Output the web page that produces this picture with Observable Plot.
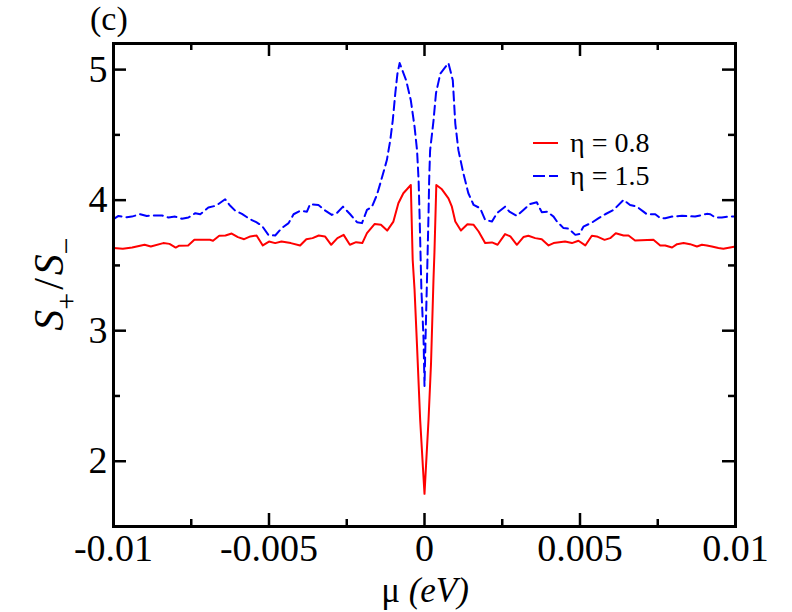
<!DOCTYPE html>
<html>
<head>
<meta charset="utf-8">
<script src="https://cdn.jsdelivr.net/npm/d3@7"></script>
<script src="https://cdn.jsdelivr.net/npm/@observablehq/plot@0.6"></script>
<style>
  html, body { margin: 0; padding: 0; background: #fff; }
  #chart { width: 792px; height: 612px; }
</style>
</head>
<body>
<div id="chart"></div>
<script>
// ---- data ----
const redMu = [-0.0100,-0.0097,-0.0094,-0.0090,-0.0088,-0.0084,-0.0082,-0.0080,-0.0079,-0.0076,-0.0074,-0.0069,-0.0068,-0.0066,-0.0064,-0.0062,-0.0060,-0.0058,-0.0056,-0.0054,-0.0052,-0.0050,-0.0048,-0.0046,-0.0043,-0.0040,-0.0038,-0.0036,-0.0034,-0.0032,-0.0030,-0.0028,-0.0026,-0.0024,-0.0022,-0.0020,-0.00185,-0.0016,-0.0014,-0.0012,-0.0010,-0.00084,-0.00068,-0.00044,-0.00038,-0.00032,-0.00024,-0.00014,-0.00005,0,0.00005,0.00013,0.00021,0.00029,0.00032,0.00038,0.00056,0.00077,0.00088,0.00099,0.00117,0.00138,0.00158,0.00174,0.00195,0.00217,0.00235,0.00259,0.00276,0.00297,0.00318,0.00334,0.00356,0.00377,0.00399,0.00415,0.00452,0.00474,0.00495,0.00517,0.00538,0.00554,0.00579,0.00597,0.00615,0.00640,0.00656,0.00677,0.00736,0.00758,0.00774,0.00796,0.00812,0.00833,0.00854,0.00876,0.00892,0.00908,0.00924,0.00945,0.00961,0.0100];
const redS = [3.633,3.628,3.637,3.658,3.645,3.671,3.665,3.637,3.650,3.653,3.696,3.696,3.689,3.727,3.729,3.744,3.717,3.701,3.722,3.729,3.653,3.683,3.671,3.683,3.671,3.653,3.701,3.709,3.729,3.722,3.658,3.709,3.734,3.658,3.678,3.671,3.747,3.818,3.811,3.767,3.836,3.976,4.053,4.116,3.543,3.315,2.882,2.320,1.950,1.750,1.970,2.320,2.750,3.400,3.600,4.116,4.083,4.014,3.950,3.836,3.767,3.816,3.811,3.760,3.671,3.676,3.658,3.740,3.722,3.658,3.717,3.727,3.709,3.701,3.653,3.671,3.683,3.671,3.689,3.653,3.727,3.722,3.696,3.709,3.747,3.729,3.729,3.691,3.696,3.653,3.653,3.637,3.663,3.671,3.663,3.645,3.658,3.653,3.645,3.633,3.628,3.645];

const blueMu = [-0.0100,-0.00984,-0.00957,-0.00941,-0.00914,-0.00893,-0.00871,-0.00844,-0.00823,-0.00802,-0.00780,-0.00759,-0.00737,-0.00721,-0.00695,-0.00670,-0.00641,-0.00627,-0.00609,-0.00587,-0.00563,-0.00541,-0.00523,-0.00502,-0.00480,-0.00459,-0.00437,-0.00421,-0.00400,-0.00378,-0.00368,-0.00341,-0.00319,-0.00298,-0.00282,-0.00262,-0.00239,-0.00217,-0.00201,-0.00185,-0.00169,-0.00153,-0.00142,-0.00121,-0.00110,-0.00102,-0.00094,-0.00087,-0.00080,-0.00059,-0.00044,-0.00032,-0.00024,-0.00019,-0.00016,-0.00010,-0.00003,0,0.00004,0.00008,0.00013,0.00015,0.00018,0.00029,0.00037,0.00051,0.00077,0.00091,0.00099,0.00109,0.00125,0.00141,0.00158,0.00179,0.00195,0.00217,0.00233,0.00259,0.00273,0.00297,0.00318,0.00340,0.00361,0.00377,0.00394,0.00415,0.00426,0.00447,0.00463,0.00485,0.00498,0.00511,0.00538,0.00560,0.00581,0.00608,0.00640,0.00661,0.00683,0.00704,0.00715,0.00742,0.00758,0.00774,0.00796,0.00828,0.00870,0.00908,0.00919,0.00935,0.00956,0.00977,0.0100];
const blueS = [3.854,3.879,3.869,3.874,3.892,3.879,3.882,3.882,3.867,3.874,3.857,3.867,3.900,3.892,3.943,3.958,4.007,3.963,3.920,3.895,3.857,3.831,3.805,3.734,3.729,3.786,3.824,3.892,3.918,3.912,3.969,3.963,3.920,3.887,3.900,3.950,3.892,3.831,3.824,3.925,3.950,4.040,4.129,4.307,4.460,4.612,4.816,4.969,5.050,4.918,4.765,4.563,4.383,4.154,3.900,3.315,2.933,2.577,3.010,3.390,3.900,4.154,4.380,4.610,4.820,4.970,5.050,4.918,4.587,4.383,4.205,4.053,3.963,3.938,3.849,3.836,3.900,3.950,3.912,3.880,3.925,3.971,3.984,3.908,3.912,3.874,3.836,3.786,3.782,3.734,3.740,3.797,3.828,3.862,3.892,3.925,4.002,3.963,3.950,3.912,3.892,3.892,3.862,3.862,3.874,3.880,3.874,3.895,3.892,3.867,3.867,3.874,3.874];

const xMajor = [-0.01, -0.005, 0, 0.005, 0.01];
const xMajorLabels = ["-0.01", "-0.005", "0", "0.005", "0.01"];
const xMinor = [-0.0075, -0.0025, 0.0025, 0.0075];
const yMajor = [2, 3, 4, 5];
const yMajorLabels = ["2", "3", "4", "5"];
const yMinor = [2.5, 3.5, 4.5];

const seriesNames = ["η = 0.8", "η = 1.5"];
const seriesColors = ["#ff0000", "#0000ff"];

// ---- build tables ----
const red = redMu.map((m, i) => ({mu: m, s: redS[i]}));
const blue = blueMu.map((m, i) => ({mu: m, s: blueS[i]}));
const xLab = new Map(xMajor.map((d, i) => [d, xMajorLabels[i]]));
const yLab = new Map(yMajor.map((d, i) => [d, yMajorLabels[i]]));

const FONT = "'Liberation Serif', 'Times New Roman', serif";
const W = 792, H = 612, ML = 113, MR = 57, MT = 43, MB = 86;
const innerW = W - ML - MR, innerH = H - MT - MB;
const MAJ = 13, MIN = 7, TW = 2.5;

const chart = Plot.plot({
  width: W,
  height: H,
  marginLeft: ML,
  marginRight: MR,
  marginTop: MT,
  marginBottom: MB,
  style: {fontFamily: FONT, background: "#fff", color: "#000"},
  x: {domain: [-0.01, 0.01], label: null},
  y: {domain: [1.5, 5.2], label: null},
  marks: [
    Plot.line(red, {x: "mu", y: "s", stroke: seriesColors[0], strokeWidth: 2}),
    Plot.line(blue, {x: "mu", y: "s", stroke: seriesColors[1], strokeWidth: 2, strokeDasharray: "9,5"}),
    // inward ticks on all four sides
    Plot.tickX(xMajor, {x: d => d, insetTop: innerH - MAJ, strokeWidth: TW}),
    Plot.tickX(xMinor, {x: d => d, insetTop: innerH - MIN, strokeWidth: TW}),
    Plot.tickX(xMajor, {x: d => d, insetBottom: innerH - MAJ, strokeWidth: TW}),
    Plot.tickX(xMinor, {x: d => d, insetBottom: innerH - MIN, strokeWidth: TW}),
    Plot.tickY(yMajor, {y: d => d, insetRight: innerW - MAJ, strokeWidth: TW}),
    Plot.tickY(yMinor, {y: d => d, insetRight: innerW - MIN, strokeWidth: TW}),
    Plot.tickY(yMajor, {y: d => d, insetLeft: innerW - MAJ, strokeWidth: TW}),
    Plot.tickY(yMinor, {y: d => d, insetLeft: innerW - MIN, strokeWidth: TW}),
    // tick labels
    Plot.axisX(xMajor, {anchor: "bottom", tickSize: 0, tickPadding: 8, fontSize: 38, tickFormat: d => xLab.get(d), label: null}),
    Plot.axisY(yMajor, {anchor: "left", tickSize: 0, tickPadding: 6, fontSize: 38, tickFormat: d => yLab.get(d), label: null}),
    Plot.frame({stroke: "#000", strokeWidth: 3})
  ]
});

document.getElementById("chart").appendChild(chart);

const svg = d3.select(chart);

// panel tag
svg.append("text").attr("x", 90).attr("y", 30).attr("text-anchor", "start")
  .attr("font-family", FONT).attr("font-size", 34).attr("fill", "#000").text("(c)");

// x-axis title
const xt = svg.append("text").attr("x", 425).attr("y", 602)
  .attr("text-anchor", "middle").attr("font-family", FONT).attr("font-size", 35).attr("fill", "#000");
xt.append("tspan").text("μ ");
xt.append("tspan").attr("font-style", "italic").text("(eV)");

// y-axis title: S+ / S−
const yt = svg.append("text")
  .attr("transform", "translate(63,284) rotate(-90)")
  .attr("text-anchor", "middle").attr("font-family", FONT).attr("font-size", 42).attr("fill", "#000");
yt.append("tspan").attr("font-style", "italic").text("S");
yt.append("tspan").attr("font-size", 30).attr("dy", 13).text("+");
yt.append("tspan").attr("dy", -13).attr("dx", 3).text("/");
yt.append("tspan").attr("font-style", "italic").attr("dx", 3).text("S");
yt.append("tspan").attr("font-size", 30).attr("dy", 13).text("−");

// legend
const legendRows = [{y: 143, dash: null}, {y: 176, dash: "12,4"}];
legendRows.forEach((r, i) => {
  const ln = svg.append("line").attr("x1", 533).attr("x2", 558).attr("y1", r.y).attr("y2", r.y)
    .attr("stroke", seriesColors[i]).attr("stroke-width", 2);
  if (r.dash) ln.attr("stroke-dasharray", r.dash);
  svg.append("text").attr("x", 570).attr("y", r.y + 9).attr("text-anchor", "start")
    .attr("font-family", FONT).attr("font-size", 28).attr("fill", "#000").text(seriesNames[i]);
});
</script>
</body>
</html>
